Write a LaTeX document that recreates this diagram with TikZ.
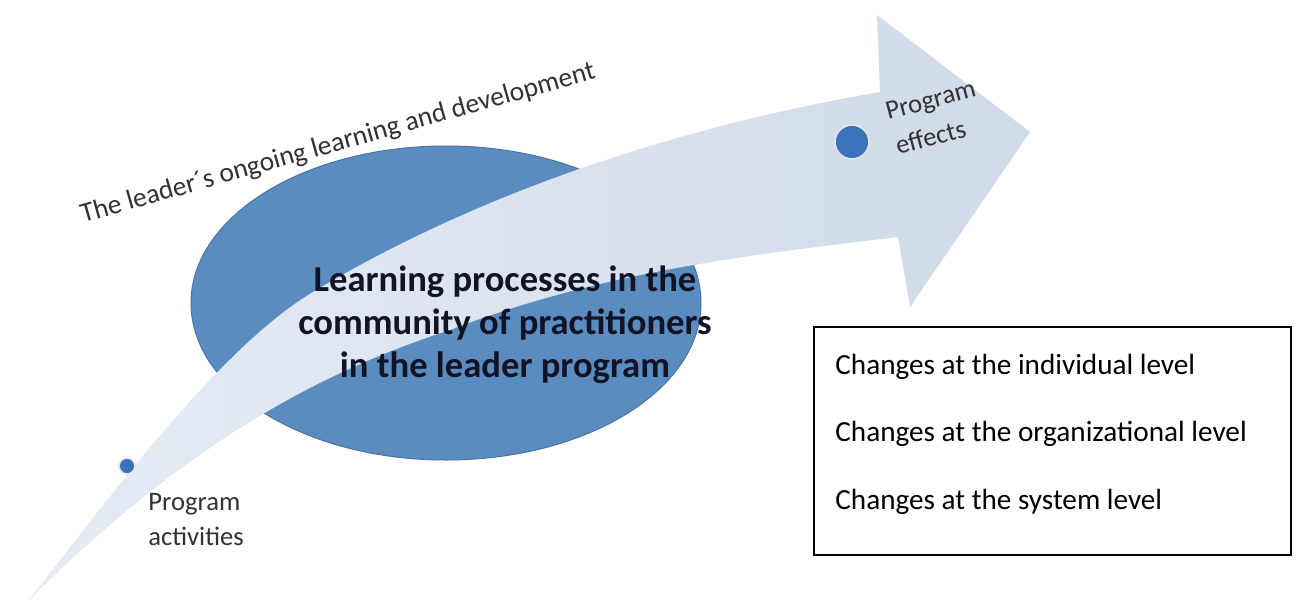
\documentclass[tikz,border=0pt]{standalone}
\usepackage{fontspec}
\setmainfont{Carlito}
\usetikzlibrary{shapes.geometric}
\definecolor{ellblue}{RGB}{91,140,192}
\definecolor{elledge}{RGB}{72,116,166}
\definecolor{bandA}{RGB}{230,236,244}
\definecolor{bandB}{RGB}{208,218,232}
\definecolor{dotblue}{RGB}{58,115,185}
\definecolor{labelgray}{RGB}{50,50,50}
\definecolor{maintext}{RGB}{18,20,38}
\begin{document}
\begin{tikzpicture}[x=0.5pt,y=-0.5pt,
  lbl/.style={font=\fontsize{13.3pt}{16pt}\selectfont, text=labelgray, inner sep=0pt, anchor=base west},
  boxtxt/.style={font=\fontsize{14.6pt}{18pt}\selectfont, inner sep=0pt, anchor=base west},
  dotnode/.style={circle, fill=dotblue, draw=white!80!gray, line width=0.8pt, inner sep=0pt}]
\useasboundingbox (0,0) rectangle (1296,605);
\fill[white] (0,0) rectangle (1296,605);
% ellipse
\node[ellipse, fill=ellblue, draw=elledge, line width=0.5pt, minimum width=255pt, minimum height=157pt, inner sep=0pt] (ell) at (446,303) {};
% curved arrow
\shade[left color=bandA, right color=bandB]
  (27,602) .. controls (94,519) and (213,352) .. (313,292)
  .. controls (493,184) and (700,123) .. (880,92)
  -- (877,15) -- (1030,132) -- (910,307) -- (898,237)
  .. controls (748,255) and (600,272) .. (450,330)
  .. controls (310,375) and (177,452) .. (27,602) -- cycle;
% dots
\node[dotnode, minimum size=17pt] (effdot) at (852,142) {};
\node[dotnode, minimum size=8pt] (actdot) at (127,466) {};
% texts
\node[font=\fontsize{13.75pt}{16pt}\selectfont, anchor=base west, rotate=15.75, inner sep=0pt, text=labelgray] (arctext) at (83,223) {The leader´s ongoing learning and development};
\node[font=\bfseries\fontsize{18.3pt}{21.5pt}\selectfont, align=center, text=maintext] (main) at (505,325) {Learning processes in the\\community of practitioners\\in the leader program};
\node[lbl, rotate=15] (eff1) at (888,120) {Program};
\node[lbl, rotate=15] (eff2) at (898,155) {effects};
\node[lbl] (act1) at (148,510) {Program};
\node[lbl] (act2) at (148,545) {activities};
% box
\node[draw, line width=1.1pt, minimum width=238.5pt, minimum height=114pt, anchor=north west, inner sep=0pt] (box) at (813,326) {};
\node[boxtxt] (c1) at (835,374) {Changes at the individual level};
\node[boxtxt] (c2) at (835,441) {Changes at the organizational level};
\node[boxtxt] (c3) at (835,509) {Changes at the system level};
\end{tikzpicture}
\end{document}
